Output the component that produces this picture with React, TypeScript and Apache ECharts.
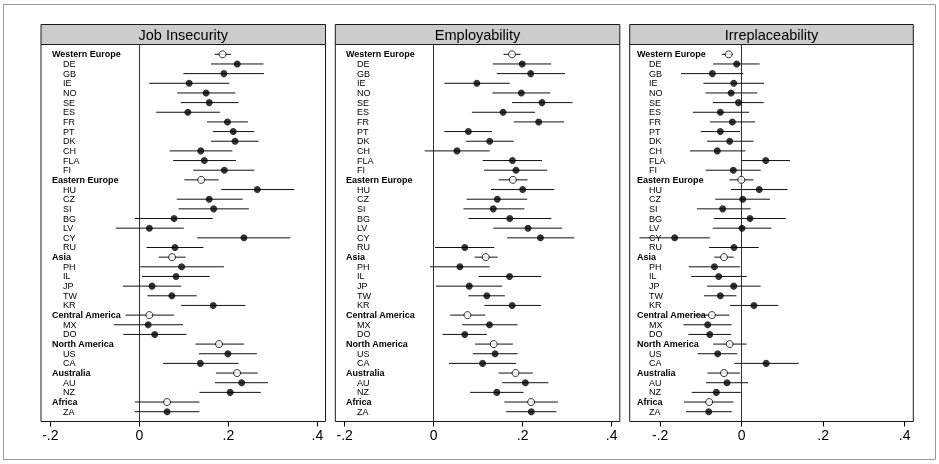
import React, { useEffect, useRef } from 'react';
import * as echarts from 'echarts';

const rowLabels = [
  'Western Europe', 'DE', 'GB', 'IE', 'NO', 'SE', 'ES', 'FR', 'PT', 'DK', 'CH', 'FLA', 'FI',
  'Eastern Europe', 'HU', 'CZ', 'SI', 'BG', 'LV', 'CY', 'RU',
  'Asia', 'PH', 'IL', 'JP', 'TW', 'KR',
  'Central America', 'MX', 'DO',
  'North America', 'US', 'CA',
  'Australia', 'AU', 'NZ',
  'Africa', 'ZA',
];
const regionRows = ['Western Europe', 'Eastern Europe', 'Asia', 'Central America', 'North America', 'Australia', 'Africa'];

const panelTitles = ['Job Insecurity', 'Employability', 'Irreplaceability'];

const jobEst = [0.187, 0.220, 0.190, 0.112, 0.150, 0.157, 0.109, 0.198, 0.211, 0.215, 0.138, 0.146, 0.191,
  0.139, 0.265, 0.157, 0.167, 0.078, 0.0225, 0.235, 0.080,
  0.0735, 0.095, 0.0825, 0.0285, 0.073, 0.166,
  0.0225, 0.020, 0.0345,
  0.179, 0.199, 0.137,
  0.2196, 0.230, 0.204,
  0.0623, 0.0623];
const jobLo = [0.169, 0.161, 0.099, 0.022, 0.085, 0.093, 0.038, 0.152, 0.165, 0.161, 0.068, 0.076, 0.121,
  0.101, 0.184, 0.084, 0.088, -0.010, -0.053, 0.130, 0.016,
  0.044, 0.002, 0.006, -0.037, 0.018, 0.094,
  -0.031, -0.057, -0.036,
  0.126, 0.134, 0.053,
  0.172, 0.170, 0.135,
  -0.010, -0.010];
const jobHi = [0.206, 0.279, 0.280, 0.202, 0.216, 0.223, 0.181, 0.244, 0.258, 0.268, 0.209, 0.217, 0.258,
  0.178, 0.348, 0.232, 0.246, 0.165, 0.100, 0.339, 0.144,
  0.104, 0.190, 0.158, 0.094, 0.129, 0.238,
  0.078, 0.098, 0.106,
  0.235, 0.264, 0.223,
  0.266, 0.289, 0.273,
  0.135, 0.135];

const empEst = [0.176, 0.199, 0.218, 0.097, 0.197, 0.2435, 0.156, 0.236, 0.078, 0.126, 0.0525, 0.177, 0.185,
  0.178, 0.200, 0.143, 0.134, 0.171, 0.212, 0.240, 0.070,
  0.117, 0.059, 0.1705, 0.080, 0.1195, 0.1765,
  0.076, 0.1255, 0.070,
  0.135, 0.138, 0.110,
  0.184, 0.206, 0.142,
  0.219, 0.2195];
const empLo = [0.157, 0.133, 0.142, 0.024, 0.132, 0.176, 0.086, 0.180, 0.024, 0.073, -0.020, 0.110, 0.113,
  0.146, 0.129, 0.074, 0.067, 0.078, 0.134, 0.165, 0.003,
  0.092, -0.008, 0.101, 0.005, 0.078, 0.114,
  0.037, 0.064, 0.020,
  0.093, 0.088, 0.0345,
  0.146, 0.154, 0.082,
  0.159, 0.163];
const empHi = [0.195, 0.264, 0.295, 0.171, 0.262, 0.312, 0.228, 0.293, 0.131, 0.180, 0.126, 0.2435, 0.255,
  0.211, 0.271, 0.210, 0.204, 0.2645, 0.2885, 0.316, 0.136,
  0.144, 0.126, 0.242, 0.154, 0.160, 0.241,
  0.116, 0.1885, 0.1195,
  0.178, 0.189, 0.1855,
  0.223, 0.258, 0.202,
  0.2795, 0.276];

const irrEst = [-0.032, -0.0123, -0.072, -0.0196, -0.026, -0.008, -0.0525, -0.023, -0.0525, -0.0295, -0.060, 0.059, -0.0206,
  -0.001, 0.043, 0.0025, -0.0467, 0.0204, 0.0007, -0.1645, -0.019,
  -0.0434, -0.067, -0.0565, -0.0196, -0.0525, 0.030,
  -0.073, -0.0835, -0.0785,
  -0.0295, -0.059, 0.060,
  -0.0434, -0.036, -0.0623,
  -0.080, -0.081];
const irrLo = [-0.049, -0.070, -0.149, -0.094, -0.089, -0.071, -0.120, -0.078, -0.1006, -0.085, -0.127, 0.0007, -0.088,
  -0.030, -0.026, -0.065, -0.110, -0.068, -0.071, -0.251, -0.080,
  -0.067, -0.130, -0.124, -0.085, -0.0925, -0.0287,
  -0.116, -0.143, -0.131,
  -0.070, -0.108, -0.018,
  -0.084, -0.0876, -0.1227,
  -0.1416, -0.1367];
const irrHi = [-0.022, 0.044, 0.004, 0.055, 0.038, 0.054, 0.018, 0.033, -0.004, 0.029, 0.009, 0.1185, 0.0466,
  0.029, 0.112, 0.0695, 0.022, 0.108, 0.0727, -0.078, 0.0417,
  -0.0196, -0.004, 0.012, 0.0466, -0.013, 0.090,
  -0.030, -0.0245, -0.0255,
  0.012, -0.011, 0.140,
  -0.004, 0.0155, -0.0025,
  -0.0206, -0.0245];

const tickValues = [-0.2, 0, 0.2, 0.4];
const tickLabels = ['-.2', '0', '.2', '.4'];

const FONT = '"Liberation Sans", Arial, Helvetica, sans-serif';

export default function App() {
  const ref = useRef<HTMLDivElement>(null);

  useEffect(() => {
    if (!ref.current) return;
    const chart = echarts.init(ref.current, undefined, { renderer: 'svg' });

    const panelData = [
      { est: jobEst, lo: jobLo, hi: jobHi },
      { est: empEst, lo: empLo, hi: empHi },
      { est: irrEst, lo: irrLo, hi: irrHi },
    ];
    // layout (pixels) and axis extents per panel
    const layout = [
      { left: 41, width: 284.5, min: -0.221, max: 0.4183, regOff: 11, ctyOff: 22 },
      { left: 335.3, width: 284.5, min: -0.221, max: 0.4183, regOff: 10.7, ctyOff: 21.7 },
      { left: 629.7, width: 283.6, min: -0.2749, max: 0.4211, regOff: 7.3, ctyOff: 19.3 },
    ];
    const gridTop = 44.5;
    const gridHeight = 377;
    const titleTop = 24.5;

    const isRegion = (i: number) => regionRows.indexOf(rowLabels[i]) >= 0;

    const grids: any[] = [];
    const xAxes: any[] = [];
    const yAxes: any[] = [];
    const series: any[] = [];
    const graphics: any[] = [
      {
        type: 'rect',
        shape: { x: 3.5, y: 4.5, width: 932, height: 455 },
        style: { fill: 'none', stroke: '#999', lineWidth: 1 },
        silent: true,
      },
    ];

    layout.forEach((L, p) => {
      const d = panelData[p];
      grids.push({
        left: L.left, top: gridTop, width: L.width, height: gridHeight,
        show: true, borderColor: '#1a1a1a', borderWidth: 1, backgroundColor: '#fff',
        containLabel: false,
      });
      xAxes.push({
        type: 'value', gridIndex: p, min: L.min, max: L.max, position: 'bottom',
        axisLine: { show: false, onZero: false },
        splitLine: { show: false },
        axisTick: {
          show: true, inside: false, length: 5, customValues: tickValues,
          lineStyle: { color: '#000', width: 1 },
        },
        axisLabel: {
          show: true, customValues: tickValues, margin: 6, fontSize: 14, color: '#000', fontFamily: FONT,
          formatter: (v: number) => {
            const k = tickValues.findIndex((t) => Math.abs(t - v) < 1e-9);
            return k >= 0 ? tickLabels[k] : '';
          },
        },
      });
      yAxes.push({
        type: 'value', gridIndex: p, inverse: true, min: -1.015, max: 38.015, show: false,
        axisLine: { onZero: false },
        splitLine: { show: false },
      });

      // row labels
      series.push({
        type: 'custom', xAxisIndex: p, yAxisIndex: p, silent: true, z: 2,
        data: rowLabels.map((_, i) => [L.min, i]),
        encode: { x: 0, y: 1 },
        renderItem: (params: any, api: any) => {
          const i = params.dataIndex;
          const c = api.coord([L.min, i]);
          const reg = isRegion(i);
          return {
            type: 'text',
            x: Math.round(L.left + (reg ? L.regOff : L.ctyOff)),
            y: Math.round(c[1]),
            style: {
              text: rowLabels[i],
              fontSize: 9,
              fontWeight: reg ? 'bold' : 'normal',
              fontFamily: FONT,
              fill: '#000',
              align: 'left',
              verticalAlign: 'middle',
            },
          };
        },
      });

      // error bars
      series.push({
        type: 'custom', xAxisIndex: p, yAxisIndex: p, silent: true, z: 3,
        data: rowLabels.map((_, i) => [d.lo[i], d.hi[i], i]),
        encode: { x: [0, 1], y: 2 },
        renderItem: (params: any, api: any) => {
          const a = api.coord([api.value(0), api.value(2)]);
          const b = api.coord([api.value(1), api.value(2)]);
          return {
            type: 'line',
            shape: { x1: a[0], y1: a[1], x2: b[0], y2: b[1] },
            style: { stroke: '#111', lineWidth: 1 },
          };
        },
      });

      // countries: filled dots + zero line
      series.push({
        type: 'scatter', xAxisIndex: p, yAxisIndex: p, silent: true, z: 4,
        symbol: 'circle', symbolSize: 7,
        itemStyle: { color: '#000' },
        data: rowLabels.map((_, i) => (isRegion(i) ? null : [d.est[i], i])).filter((v) => v !== null),
        markLine: {
          silent: true, symbol: ['none', 'none'], label: { show: false },
          lineStyle: { color: '#333', width: 1, type: 'solid' },
          data: [{ xAxis: 0 }],
          z: 1,
        },
      });

      // regions: hollow dots
      series.push({
        type: 'scatter', xAxisIndex: p, yAxisIndex: p, silent: true, z: 5,
        symbol: 'circle', symbolSize: 7,
        itemStyle: { color: '#fff', borderColor: '#000', borderWidth: 1 },
        data: rowLabels.map((_, i) => (isRegion(i) ? [d.est[i], i] : null)).filter((v) => v !== null),
      });

      // title bar
      graphics.push({
        type: 'rect', silent: true,
        shape: { x: L.left, y: titleTop, width: L.width, height: gridTop - titleTop },
        style: { fill: '#cccccc', stroke: '#1a1a1a', lineWidth: 1 },
      });
      graphics.push({
        type: 'text', silent: true,
        x: L.left + L.width / 2, y: (titleTop + gridTop) / 2 + 0.5,
        style: {
          text: panelTitles[p], fontSize: 14.5, fontFamily: FONT, fill: '#000',
          align: 'center', verticalAlign: 'middle',
        },
      });
    });

    chart.setOption({
      animation: false,
      backgroundColor: '#fff',
      grid: grids,
      xAxis: xAxes,
      yAxis: yAxes,
      series,
      graphic: graphics,
    });

    return () => chart.dispose();
  }, []);

  return (
    <div
      ref={ref}
      style={{ position: 'absolute', left: 0, top: 0, width: 939, height: 464, willChange: 'transform' }}
    />
  );
}
